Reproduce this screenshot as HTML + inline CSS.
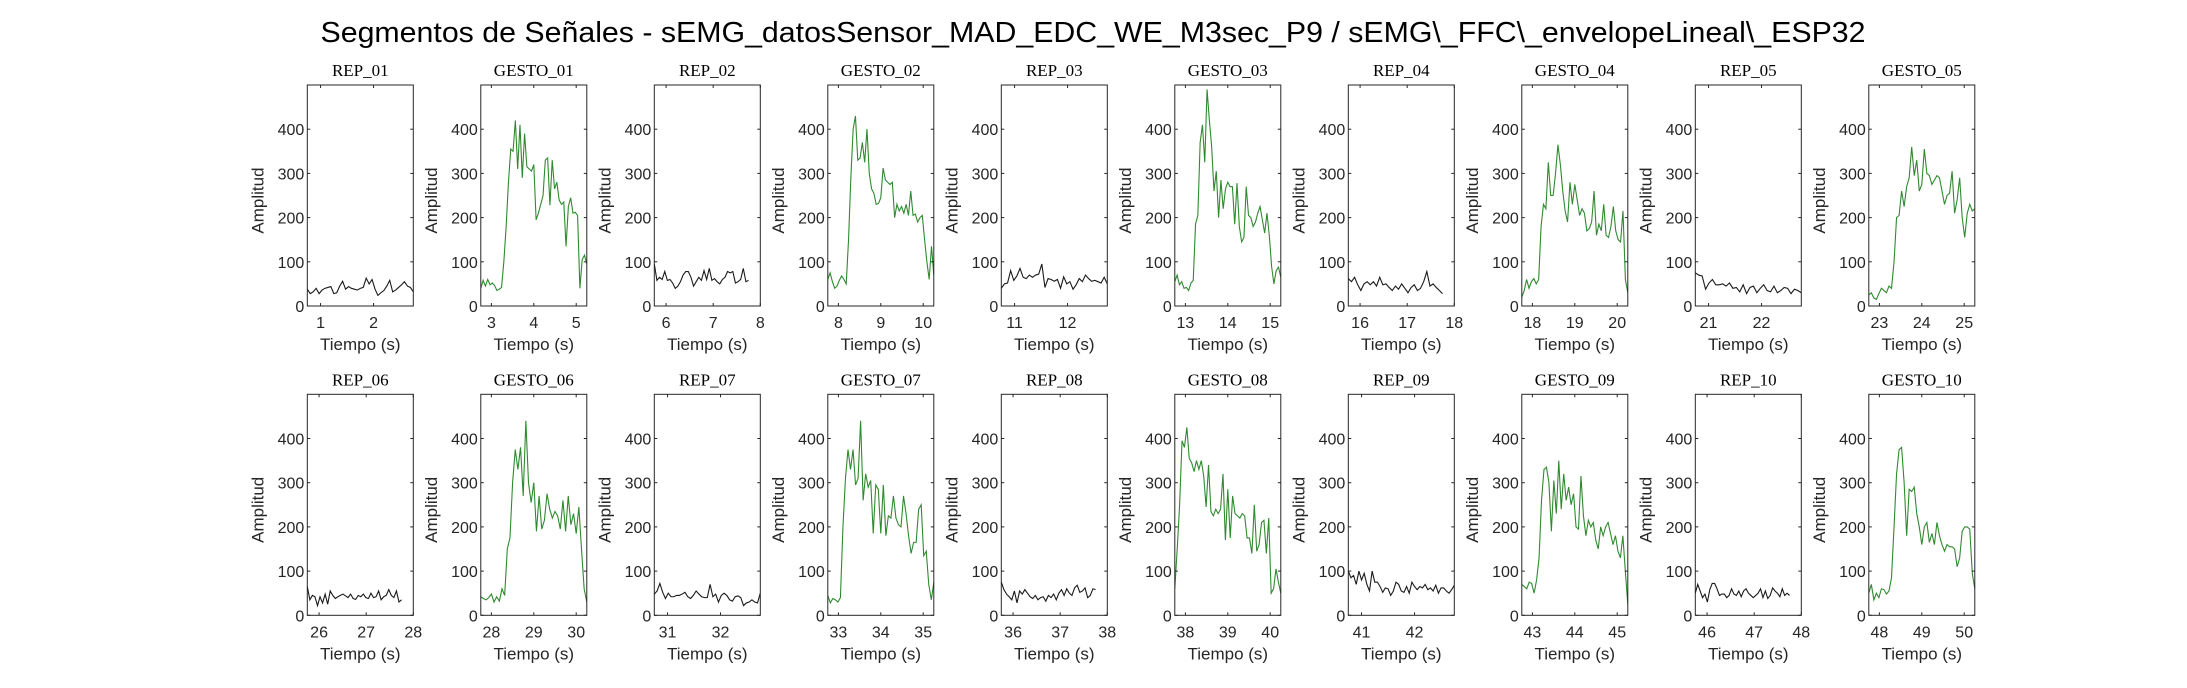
<!DOCTYPE html>
<html><head><meta charset="utf-8"><style>
html,body{margin:0;padding:0;background:#fff;}
svg{display:block;}
</style></head><body>
<svg id="fig" width="2187" height="688" xmlns="http://www.w3.org/2000/svg">
<rect width="2187" height="688" fill="#fff"/>
<text x="1093" y="42" text-anchor="middle" font-family="Liberation Sans, sans-serif" font-size="29" fill="#000" textLength="1545" lengthAdjust="spacingAndGlyphs">Segmentos de Señales - sEMG_datosSensor_MAD_EDC_WE_M3sec_P9 / sEMG\_FFC\_envelopeLineal\_ESP32</text>
</svg>
<script>
const panelNames = ["REP_01","GESTO_01","REP_02","GESTO_02","REP_03","GESTO_03","REP_04","GESTO_04","REP_05","GESTO_05","REP_06","GESTO_06","REP_07","GESTO_07","REP_08","GESTO_08","REP_09","GESTO_09","REP_10","GESTO_10"];
const yTicks = [0,100,200,300,400];
const yMax = 500;
const rep01=[38,28,32,40,28,36,40,42,44,28,30,45,56,38,44,40,38,36,40,42,63,50,60,38,24,30,35,45,58,32,36,42,48,55,45,42,32];
const gesto01=[40,58,45,60,48,52,46,35,38,42,100,180,280,355,350,420,310,410,290,390,315,310,305,320,195,210,230,250,330,335,228,330,265,280,240,230,235,135,225,245,210,212,205,40,105,115,95];
const rep02=[95,58,65,60,78,58,60,52,40,45,55,70,78,78,65,45,55,65,58,80,60,85,58,62,55,50,60,65,78,75,78,52,55,60,85,55,58];
const gesto02=[60,75,55,40,45,58,68,60,50,150,290,400,430,330,335,370,325,400,300,265,255,230,232,245,312,285,280,275,280,200,230,215,225,210,230,205,260,205,208,190,200,205,150,100,60,135,70];
const rep03=[40,50,52,80,58,68,85,65,62,70,65,70,72,95,42,62,60,56,60,40,66,50,55,38,48,62,55,70,62,56,58,55,52,65,50];
const gesto03=[55,70,48,55,40,42,35,52,58,185,205,370,410,325,490,420,360,260,305,200,285,220,265,280,270,270,185,278,180,145,155,270,205,200,180,190,210,225,195,165,210,160,90,50,80,88,65];
const rep04=[62,55,65,48,35,50,55,48,55,45,65,48,50,42,35,45,38,50,40,30,42,48,35,40,55,78,45,50,42,35,28];
const gesto04=[20,35,60,40,55,62,50,60,180,230,220,325,250,250,300,365,320,260,215,190,280,230,275,240,205,220,210,170,175,190,260,160,185,170,230,160,155,180,225,170,150,145,215,60,30];
const rep05=[75,70,68,38,52,60,48,48,50,45,52,40,42,32,48,28,42,45,30,40,48,35,32,45,30,35,42,40,28,38,35,30];
const gesto05=[25,30,18,15,28,40,35,30,45,40,100,200,205,260,225,270,290,360,295,330,260,275,355,300,295,275,285,295,290,260,230,250,255,305,210,240,290,200,155,210,230,215,220];
const rep06=[65,35,45,42,22,42,28,48,25,55,45,38,42,45,48,44,40,48,38,36,45,42,48,40,38,50,40,42,55,35,42,45,58,45,40,55,30,35];
const gesto06=[42,38,35,40,48,30,42,32,60,45,150,175,300,375,330,380,270,440,300,255,300,190,270,195,215,275,240,220,235,225,195,260,190,270,205,230,185,245,150,60,30];
const rep07=[48,55,72,52,38,50,42,42,45,45,48,52,42,38,45,55,48,42,40,40,70,42,48,30,45,50,45,35,32,42,44,40,22,28,30,35,30,28,50];
const gesto07=[45,28,38,35,30,40,200,310,375,330,375,295,310,440,260,320,290,305,185,295,285,185,295,180,225,220,270,220,205,200,270,230,180,140,165,165,240,250,135,145,70,35,75];
const rep08=[75,58,48,42,35,55,28,55,48,58,50,42,38,45,35,40,42,32,45,40,48,35,50,58,45,60,50,45,62,68,52,55,62,40,45,60,58];
const gesto08=[60,150,250,395,380,425,355,345,325,350,330,350,315,245,340,235,225,240,230,240,320,170,285,175,270,230,225,220,230,225,175,175,140,250,145,160,210,215,140,220,50,60,105,75,50];
const rep09=[100,85,90,70,100,80,95,70,55,100,75,75,65,52,62,60,45,55,75,70,55,52,65,50,75,65,58,65,62,70,58,62,55,68,50,62,62,55,50,58,68];
const gesto09=[70,65,60,75,72,50,80,130,260,330,335,300,190,305,230,350,240,320,260,290,250,275,200,195,315,225,180,215,200,210,170,150,200,180,200,210,185,160,180,145,130,180,100,25];
const rep10=[50,70,55,40,48,30,58,72,72,60,45,48,48,40,45,60,48,45,55,42,55,60,50,45,40,45,50,60,40,55,38,45,62,55,50,42,60,45,50,45];
const gesto10=[50,70,35,50,40,60,58,48,55,85,200,320,375,380,300,180,285,280,290,230,200,160,200,210,165,185,160,210,180,160,145,160,155,155,150,110,130,190,200,200,195,95,60];
const series=[rep01,gesto01,rep02,gesto02,rep03,gesto03,rep04,gesto04,rep05,gesto05,rep06,gesto06,rep07,gesto07,rep08,gesto08,rep09,gesto09,rep10,gesto10];
const startTimes=[0.75,2.75,5.75,7.75,10.75,12.75,15.75,17.75,20.75,22.75,25.75,27.75,30.75,32.75,35.75,37.75,40.75,42.75,45.75,47.75];
const spans=[2,2.5,2,2.5,2,2.5,2,2.5,2,2.5,2,2.5,2,2.5,2,2.5,2,2.5,2,2.5];
const xWidths=[2,2.5,2.25,2.5,2,2.5,2.25,2.5,2,2.5,2.25,2.5,2,2.5,2.25,2.5,2,2.5,2.25,2.5];

const NS="http://www.w3.org/2000/svg";
const svg=document.getElementById('fig');
function mk(tag,attrs,parent){const e=document.createElementNS(NS,tag);for(const k in attrs)e.setAttribute(k,attrs[k]);(parent||svg).appendChild(e);return e;}
const W=106,H=221,pitch=173.5,left0=307.3,tops=[85,394.3];
const AX="#262626";
series.forEach((data,i)=>{
  const col=i%10,row=Math.floor(i/10);
  const L=left0+col*pitch,T=tops[row];
  const x0=startTimes[i],x1=x0+xWidths[i];
  const sx=t=>L+(t-x0)/(x1-x0)*W;
  const sy=v=>T+H-v/yMax*H;
  const g=mk('g',{});
  
  
  const clipId='c'+i;
  const cp=mk('clipPath',{id:clipId},g);mk('rect',{x:L,y:T,width:W,height:H},cp);
  const pts=data.map((v,k)=>sx(x0+k*spans[i]/(data.length-1)).toFixed(2)+','+sy(v).toFixed(2)).join(' ');
  const line=mk('polyline',{points:pts,fill:'none',stroke:i%2?'#2f8a2f':'#1a1a1a','stroke-width':1.1,'clip-path':'url(#'+clipId+')'},g);
  
  
  const box=mk('rect',{x:L,y:T,width:W,height:H,fill:'none',stroke:AX,'stroke-width':1},g);
  
  
  yTicks.forEach(v=>{
    const y=sy(v);
    mk('line',{x1:L,x2:L+3,y1:y,y2:y,stroke:AX},g);
    mk('line',{x1:L+W-3,x2:L+W,y1:y,y2:y,stroke:AX},g);
    const t=mk('text',{x:L-3,y:y+6,'text-anchor':'end','font-family':'Liberation Sans, sans-serif','font-size':16,fill:AX},g);
    t.textContent=v;
    
    
  });
  for(let tk=Math.ceil(x0-1e-9);tk<=x1+1e-9;tk++){
    const x=sx(tk);
    mk('line',{x1:x,x2:x,y1:T+H,y2:T+H-3,stroke:AX},g);
    mk('line',{x1:x,x2:x,y1:T,y2:T+3,stroke:AX},g);
    const t=mk('text',{x:x,y:T+H+22,'text-anchor':'middle','font-family':'Liberation Sans, sans-serif','font-size':16,fill:AX},g);
    t.textContent=tk;
    
    
  }
  const xl=mk('text',{x:L+W/2,y:T+H+44,'text-anchor':'middle','font-family':'Liberation Sans, sans-serif','font-size':17,fill:AX},g);
  xl.textContent='Tiempo (s)';
  
  
  const yx=L-44,yy=T+H/2+5;
  const yl=mk('text',{x:yx,y:yy,'text-anchor':'middle','font-family':'Liberation Sans, sans-serif','font-size':17,fill:AX,transform:'rotate(-90 '+yx+' '+yy+')'},g);
  yl.textContent='Amplitud';
  
  
  const ti=mk('text',{x:L+W/2,y:T-9,'text-anchor':'middle','font-family':'Liberation Serif, serif','font-size':17,fill:'#000'},g);
  ti.textContent=panelNames[i];
  
  
});
</script>
</body></html>
